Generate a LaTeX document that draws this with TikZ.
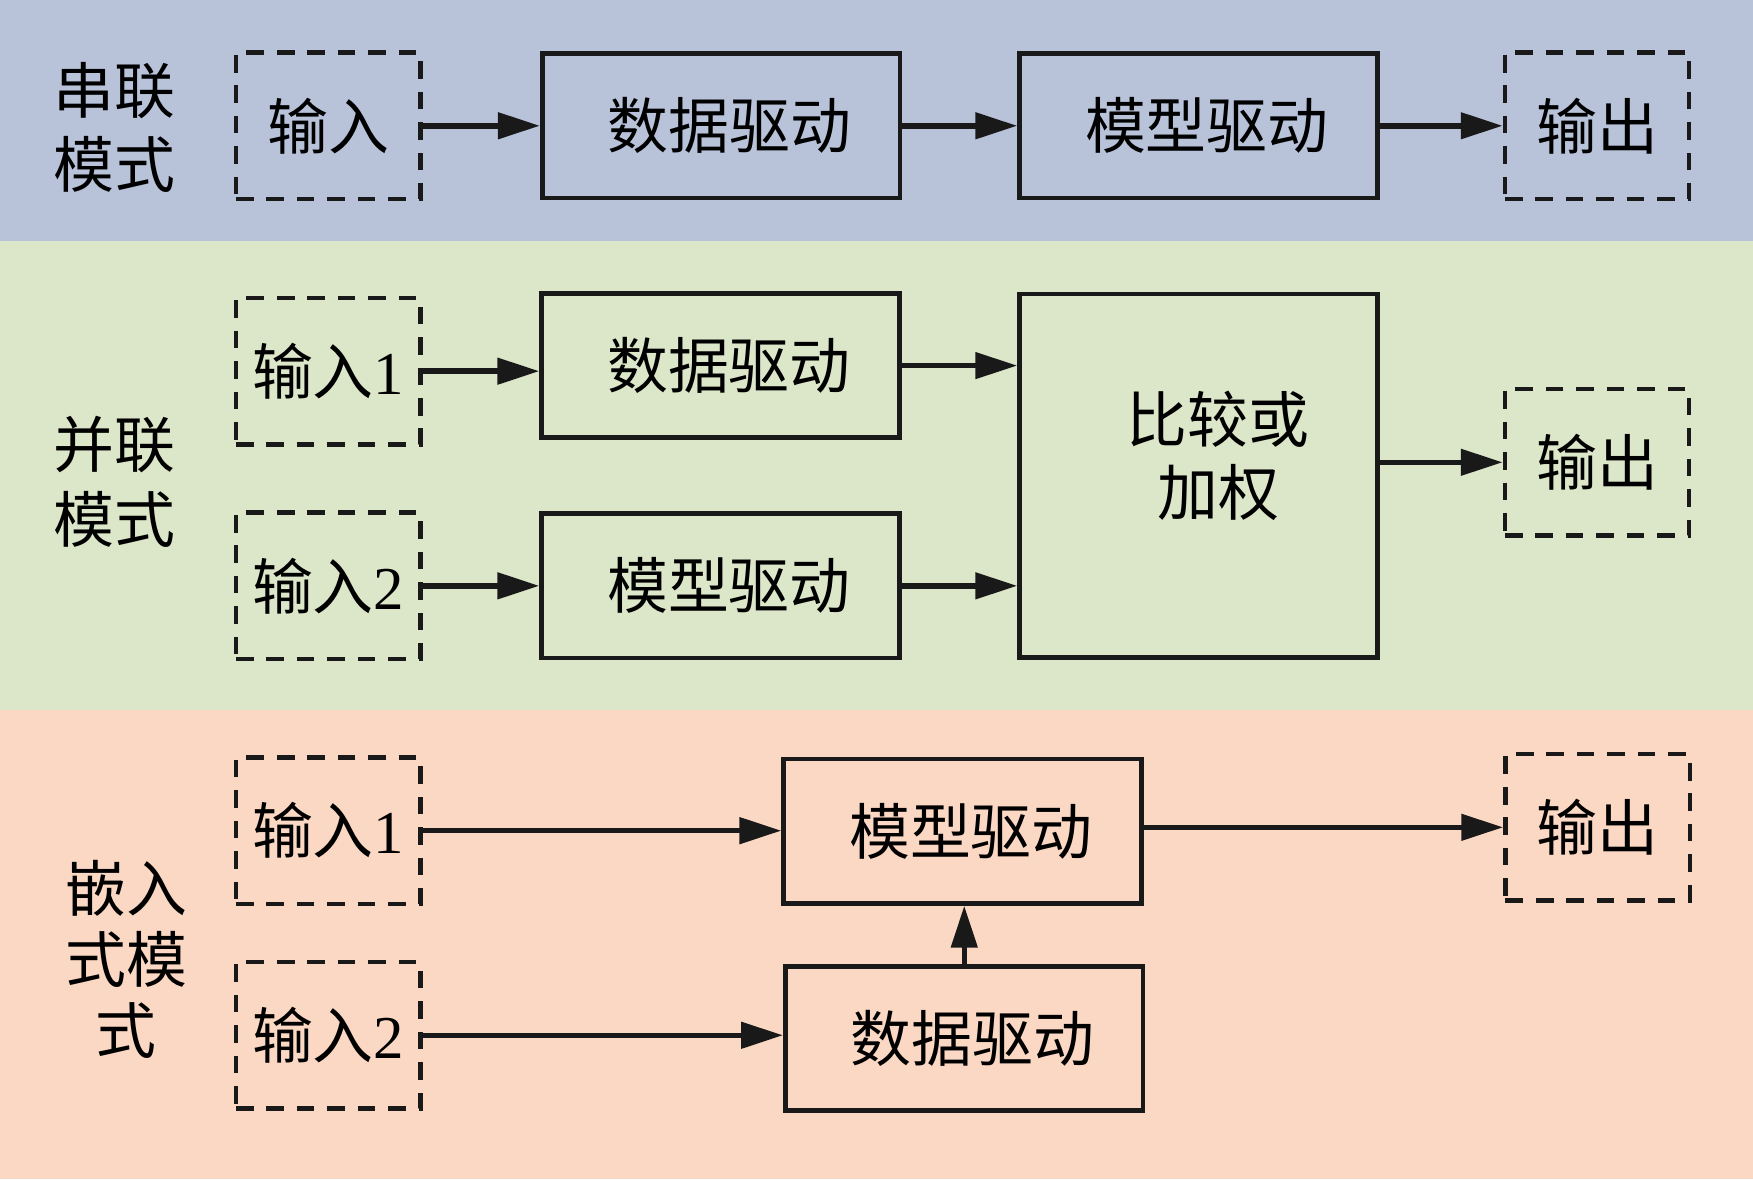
\documentclass[tikz,border=0pt]{standalone}
\usepackage{fontspec}
\setmainfont{Liberation Serif}
\newfontfamily\cjk{Noto Sans CJK SC}
\usetikzlibrary{arrows.meta,positioning}
\definecolor{bandblue}{RGB}{184,195,218}
\definecolor{bandgreen}{RGB}{220,230,201}
\definecolor{bandpink}{RGB}{250,216,196}
\newcommand{\zh}[1]{{\cjk #1}}

\begin{document}
\begin{tikzpicture}[x=0.02cm, y=-0.02cm, font=\fontsize{31}{38}\selectfont, box/.style={draw=black!90, line width=2.4pt, minimum width=6.4cm, minimum height=2.58cm, inner sep=0pt, align=center}, io/.style={draw=black!90, line width=2.2pt, dash pattern=on 9pt off 6.5pt, minimum width=3.3cm, minimum height=2.62cm, inner sep=0pt}, mode/.style={align=center, inner sep=0pt}, arr/.style={-{Triangle[length=7.5mm, width=4.6mm]}, line width=2.8pt, draw=black!90}]
\useasboundingbox (0,0) rectangle (1568,1055);
\fill[bandblue] (0,0) rectangle (1568,216);
\fill[bandgreen] (0,216) rectangle (1568,635);
\fill[bandpink] (0,635) rectangle (1568,1055);

% serial
\node[mode] (ser) at (102,114) {\zh{串联}\\\zh{模式}};
\node[io] (in0) at (293.5,112.5) {\zh{输入}};
\node[box] (dd0) at (645,112.5) {\hspace*{0.3cm}\zh{数据驱动}};
\node[box] (md0) at (1072,112.5) {\hspace*{0.3cm}\zh{模型驱动}};
\node[io] (out0) at (1428.5,112.5) {\zh{输出}};
\draw[arr] (in0) -- (dd0); \draw[arr] (dd0) -- (md0); \draw[arr] (md0) -- (out0);

% parallel
\node[mode] (par) at (102,431) {\zh{并联}\\\zh{模式}};
\node[io] (in1) at (293.5,332) {\zh{输入}1};
\node[io] (in2) at (293.5,524) {\zh{输入}2};
\node[box] (dd1) at (644.5,327) {\hspace*{0.3cm}\zh{数据驱动}};
\node[box] (md1) at (644.5,524) {\hspace*{0.3cm}\zh{模型驱动}};
\node[box, minimum height=6.5cm, font=\fontsize{31}{37}\selectfont] (cw) at (1072,425.5) {\hspace*{0.7cm}\zh{比较或}\\\hspace*{0.7cm}\zh{加权}\\[-0.5cm]};
\node[io] (out1) at (1428.5,413.5) {\zh{输出}};
\draw[arr] (in1.east) -- (in1.east -| dd1.west);
\draw[arr] (in2.east) -- (in2.east -| md1.west);
\draw[arr] (dd1.east) -- (dd1.east -| cw.west);
\draw[arr] (md1.east) -- (md1.east -| cw.west);
\draw[arr] (out1.west -| cw.east) -- (out1.west);

% embedded
\node[mode, font=\fontsize{31}{36}\selectfont] (emb) at (113,858) {\zh{嵌入}\\\zh{式模}\\\zh{式}};
\node[io] (in3) at (293.5,743) {\zh{输入}1};
\node[io] (in4) at (293.5,926) {\zh{输入}2};
\node[box] (md3) at (861,743.5) {\hspace*{0.3cm}\zh{模型驱动}};
\node[box] (dd3) at (862.5,929) {\hspace*{0.3cm}\zh{数据驱动}};
\node[io] (out3) at (1429,740) {\zh{输出}};
\draw[arr] (in3.east) -- (in3.east -| md3.west);
\draw[arr] (in4.east) -- (in4.east -| dd3.west);
\draw[arr] (out3.west -| md3.east) -- (out3.west);
\draw[arr] (dd3.north) -- (dd3.north |- md3.south);
\end{tikzpicture}
\end{document}
